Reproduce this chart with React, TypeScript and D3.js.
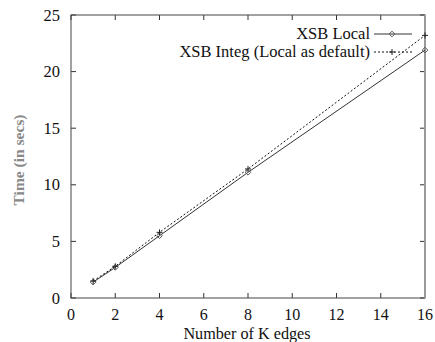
import React from "react";
import * as d3 from "d3";

const edges = [1, 2, 4, 8, 16];
const localTimes = [1.4, 2.7, 5.5, 11.1, 21.9];
const integTimes = [1.5, 2.8, 5.8, 11.4, 23.2];
const xTicks = [0, 2, 4, 6, 8, 10, 12, 14, 16];
const yTicks = [0, 5, 10, 15, 20, 25];
const seriesNames = ["XSB Local", "XSB Integ (Local as default)"];

const W = 435, H = 342;
const left = 71, right = 425, top = 15, bottom = 298;
const font = '"Liberation Serif"';

export default function App() {
  const x = d3.scaleLinear().domain([0, 16]).range([left, right]);
  const y = d3.scaleLinear().domain([0, 25]).range([bottom, top]);
  const line = d3.line<number>().x((_, i) => x(edges[i])).y((d) => y(d));
  const tl = 5;
  const diamond = (cx: number, cy: number, k: string) => (
    <path key={k} d={`M${cx},${cy - 2.8}L${cx + 2.8},${cy}L${cx},${cy + 2.8}L${cx - 2.8},${cy}Z`} fill="none" stroke="#555" strokeWidth={1} />
  );
  const plus = (cx: number, cy: number, k: string) => (
    <path key={k} d={`M${cx - 3},${cy}H${cx + 3}M${cx},${cy - 3}V${cy + 3}`} stroke="#222" strokeWidth={1} />
  );
  const ts = { fontFamily: font } as React.CSSProperties;
  return (
    <div style={{ position: "absolute", left: 0, top: 0 }}>
      <svg width={W} height={H} style={{ display: "block", background: "#fff" }}>
        {xTicks.map((t) => (
          <g key={"xt" + t}>
            <line x1={x(t)} x2={x(t)} y1={bottom} y2={bottom - tl} stroke="#333" />
            <line x1={x(t)} x2={x(t)} y1={top} y2={top + tl} stroke="#333" />
            <text style={ts} x={x(t)} y={319.5} textAnchor="middle" fontSize={16} fill="#111">{t}</text>
          </g>
        ))}
        {yTicks.map((t) => (
          <g key={"yt" + t}>
            <line x1={left} x2={left + tl} y1={y(t)} y2={y(t)} stroke="#333" />
            <line x1={right} x2={right - tl} y1={y(t)} y2={y(t)} stroke="#333" />
            <text style={ts} x={60} y={y(t) + 5.5} textAnchor="end" fontSize={16.5} fill="#111">{t}</text>
          </g>
        ))}
        <rect x={left} y={top} width={right - left} height={bottom - top} fill="none" stroke="#444" strokeWidth={1} />
        <line x1={right} x2={right} y1={top} y2={bottom} stroke="#999" strokeWidth={2} />
        <path d={line(localTimes) || ""} fill="none" stroke="#333" strokeWidth={1} />
        <path d={line(integTimes) || ""} fill="none" stroke="#111" strokeWidth={1} strokeDasharray="2,2" />
        {localTimes.map((v, i) => diamond(x(edges[i]), y(v), "d" + i))}
        {integTimes.map((v, i) => plus(x(edges[i]), y(v), "p" + i))}
        <text style={ts} x={370} y={39} textAnchor="end" fontSize={16.5} fill="#111">{seriesNames[0]}</text>
        <line x1={374} x2={412} y1={34} y2={34} stroke="#777" strokeWidth={1.5} />
        {diamond(392, 34, "ld")}
        <text style={ts} x={370} y={57} textAnchor="end" fontSize={16.5} fill="#111">{seriesNames[1]}</text>
        <line x1={374} x2={412} y1={52} y2={52} stroke="#111" strokeWidth={1} strokeDasharray="2,2" />
        {plus(392, 52, "lp")}
        <text style={ts} x={247} y={338.5} textAnchor="middle" fontSize={16.2} fill="#111">Number of K edges</text>
        <text style={ts} transform={`translate(24,160) rotate(-90)`} textAnchor="middle" fontSize={15.5} fontWeight="bold" fill="#888">Time (in secs)</text>
      </svg>
    </div>
  );
}
